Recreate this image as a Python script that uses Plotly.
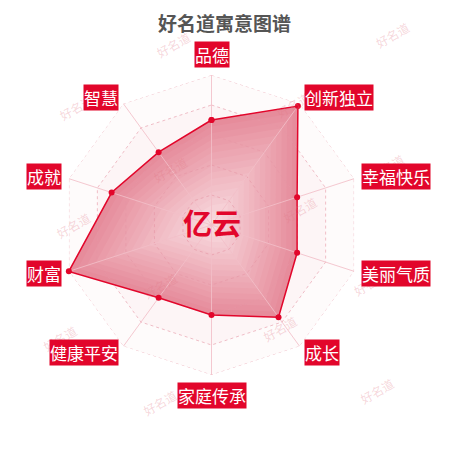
import math
import plotly.graph_objects as go

# data (scale 0-100)
categories = ["品德", "创新独立", "幸福快乐", "美丽气质", "成长",
              "家庭传承", "健康平安", "财富", "成就", "智慧"]
values = [70, 98, 60, 60, 76, 60, 60, 100, 70, 60]
ring_levels = [20, 40, 60, 80, 100]
name = "亿云"
title = "好名道寓意图谱"

# watermark spots (decoration, screen pixel positions)
wm_x = [173, 415, 53, 293, 410, 170, 50, 300, 393, 160, 37, 280, 160, 400]
wm_y = [25, 15, 88, 85, 147, 150, 225, 210, 282, 285, 358, 348, 422, 410]

OFF = 8                      # page body margin
W = H = 450 - OFF
cx, cy, R = 211.5 - OFF, 225 - OFF, 150   # polar centre / radius in figure pixels
RED = "#e2062b"

closed_cat = categories + categories[:1]
closed_vals = values + values[:1]
fig = go.Figure()

# background split areas (lighter towards the rim)
band_colors = ["#fefbfb", "#fdf5f6", "#fbeef0", "#fae8eb", "#f9e3e7"]
for lvl, col in zip(ring_levels[::-1], band_colors):
    fig.add_trace(go.Scatterpolar(
        r=[lvl] * len(closed_cat), theta=closed_cat, mode="lines",
        fill="toself", fillcolor=col, line=dict(width=0),
        hoverinfo="skip", showlegend=False))

# data area, stacked to imitate the radial gradient
c_out, c_in = (230, 140, 155), (248, 218, 223)
steps = 16
for j in range(steps):
    k = 1 - j / steps
    t = j / (steps - 1)
    col = "rgb(%d,%d,%d)" % tuple(round(a + (b - a) * t) for a, b in zip(c_out, c_in))
    fig.add_trace(go.Scatterpolar(
        r=[v * k for v in closed_vals], theta=closed_cat, mode="lines",
        fill="toself", fillcolor=col, line=dict(width=0),
        hoverinfo="skip", showlegend=False))

# dotted rings and spokes
for lvl in ring_levels:
    fig.add_trace(go.Scatterpolar(
        r=[lvl] * len(closed_cat), theta=closed_cat, mode="lines",
        line=dict(color="rgba(230,150,165,0.6)", width=1, dash="dot"),
        hoverinfo="skip", showlegend=False))
for c in categories:
    fig.add_trace(go.Scatterpolar(
        r=[0, 100], theta=[c, c], mode="lines",
        line=dict(color="rgba(242,190,200,0.85)", width=1),
        hoverinfo="skip", showlegend=False))

# the series line + points
fig.add_trace(go.Scatterpolar(
    r=closed_vals, theta=closed_cat, mode="lines+markers",
    line=dict(color=RED, width=1.5),
    marker=dict(color=RED, size=6),
    showlegend=False))

annotations = []
# watermarks
for x, y in zip(wm_x, wm_y):
    annotations.append(dict(
        x=(x - OFF) / W, y=1 - (y - OFF) / H, xref="paper", yref="paper", text="好名道",
        showarrow=False, textangle=-30,
        font=dict(family="Noto Sans CJK SC", size=12, color="rgba(225,120,135,0.3)")))

# category labels with red boxes
LR = 157
n = len(categories)
for i, c in enumerate(categories):
    a = 2 * math.pi * i / n
    s, co = math.sin(a), math.cos(a)
    px_, py_ = cx + LR * s, cy - LR * co
    if abs(s) < 0.01:
        xa, ya = "center", ("bottom" if co > 0 else "top")
    else:
        xa, ya = ("left" if s > 0 else "right"), "middle"
    annotations.append(dict(
        x=px_ / W, y=1 - py_ / H, xref="paper", yref="paper", text=c,
        showarrow=False, xanchor=xa, yanchor=ya, bgcolor=RED, borderpad=0,
        font=dict(family="Noto Sans CJK SC", size=17, color="white")))

# name in the centre
annotations.append(dict(
    x=cx / W, y=1 - (cy - 3) / H, xref="paper", yref="paper", text="<b>%s</b>" % name,
    showarrow=False, font=dict(family="Noto Sans CJK SC", size=29, color=RED)))

# title, kept as high as the page allows
annotations.append(dict(
    x=(224.5 - OFF) / W, y=1, xref="paper", yref="paper", text="<b>%s</b>" % title,
    showarrow=False, xanchor="center", yanchor="top", borderpad=0,
    font=dict(family="Noto Sans CJK SC", size=19, color="#555555")))

fig.update_layout(
    width=W, height=H,
    margin=dict(l=0, r=0, t=0, b=0),
    paper_bgcolor="white",
    polar=dict(
        domain=dict(x=[(cx - R) / W, (cx + R) / W], y=[1 - (cy + R) / H, 1 - (cy - R) / H]),
        bgcolor="rgba(0,0,0,0)",
        gridshape="linear",
        radialaxis=dict(range=[0, 100], visible=False, showgrid=False),
        angularaxis=dict(direction="clockwise", rotation=90, showgrid=False,
                         showline=False, showticklabels=False, ticks=""),
    ),
    annotations=annotations,
    showlegend=False,
)

fig.write_html("out.html")
